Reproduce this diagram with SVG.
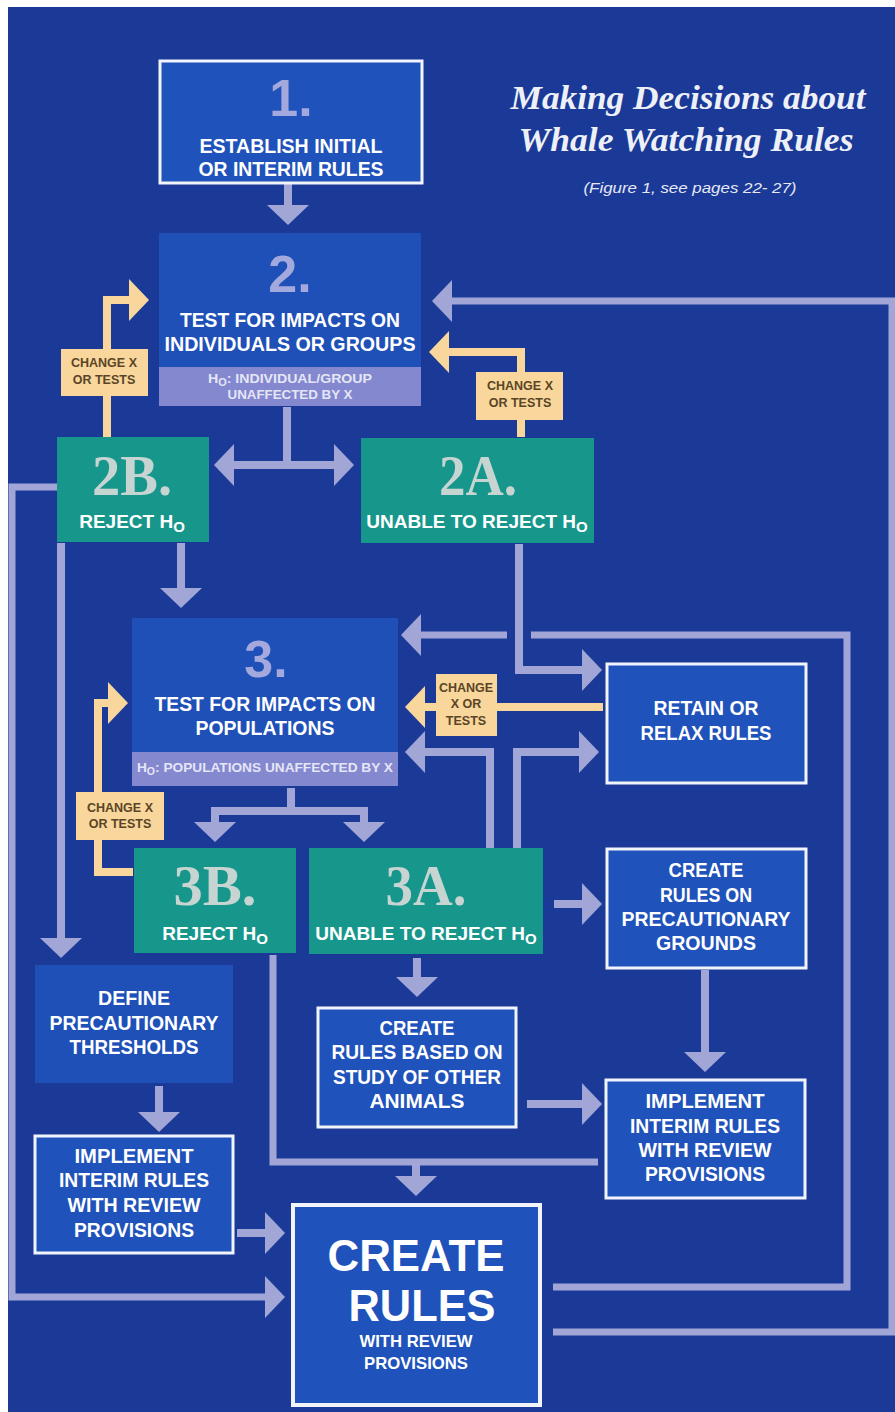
<svg xmlns="http://www.w3.org/2000/svg" width="895" height="1412" viewBox="0 0 895 1412">
<defs>
<style>
.bg{fill:#1b3a97}
.nb{fill:#1f52ba;stroke:#f2f4fb;stroke-width:3}
.nt{fill:#1f50b8}
.band{fill:#8488cf}
.teal{fill:#17978c}
.t{font-family:"Liberation Sans",Arial,sans-serif;font-weight:700;fill:#ffffff;text-anchor:middle;font-size:20px}
.r{font-size:19px}
.bt{font-family:"Liberation Sans",Arial,sans-serif;font-weight:700;font-size:13px;fill:#e4e6f7;text-anchor:middle}
.num{font-family:"Liberation Sans",Arial,sans-serif;font-weight:700;font-size:52px;fill:#a3a8dd;text-anchor:middle}
.snum{font-family:"Liberation Serif","Times New Roman",serif;font-weight:700;font-size:58px;fill:#c6d4d2;text-anchor:middle}
.lab{fill:#f8d69c}
.lt{font-family:"Liberation Sans",Arial,sans-serif;font-weight:700;font-size:12.5px;fill:#5a4526;text-anchor:middle}
.g{fill:none;stroke:#a1a6d7;stroke-width:8}
.gl{fill:none;stroke:#a1a6d7;stroke-width:7}
.y{fill:none;stroke:#f8d69c;stroke-width:8}
.ttl{font-family:"Liberation Serif","Times New Roman",serif;font-weight:700;font-style:italic;font-size:33px;fill:#eef0f8;text-anchor:middle}
.cap{font-family:"Liberation Sans",Arial,sans-serif;font-style:italic;font-size:15px;fill:#e6e8f4;text-anchor:middle}
</style>
<marker id="ag" viewBox="0 0 20 42" refX="4" refY="21" markerWidth="20" markerHeight="42" markerUnits="userSpaceOnUse" orient="auto-start-reverse"><path d="M0,0 L20,21 L0,42 Z" fill="#a1a6d7"/></marker>
<marker id="ay" viewBox="0 0 20 42" refX="4" refY="21" markerWidth="20" markerHeight="42" markerUnits="userSpaceOnUse" orient="auto-start-reverse"><path d="M0,0 L20,21 L0,42 Z" fill="#f8d69c"/></marker>
</defs>
<rect width="895" height="1412" fill="#ffffff"/>
<rect class="bg" x="8" y="7" width="887" height="1405"/>

<g id="title">
<text class="ttl" x="688" y="109" textLength="355" lengthAdjust="spacingAndGlyphs">Making Decisions about</text>
<text class="ttl" x="686" y="151" textLength="335" lengthAdjust="spacingAndGlyphs">Whale Watching Rules</text>
<text class="cap" x="690" y="193" textLength="213" lengthAdjust="spacingAndGlyphs">(Figure 1, see pages 22- 27)</text>
</g>

<g id="connectors">
<path class="g" d="M288,184 L288,209" marker-end="url(#ag)"/>
<path class="g" d="M287,407 L287,465"/>
<path class="g" d="M230,465 L338,465" marker-start="url(#ag)" marker-end="url(#ag)"/>
<path class="g" d="M181,543 L181,592" marker-end="url(#ag)"/>
<path class="g" d="M61,543 L61,942" marker-end="url(#ag)"/>
<path class="gl" d="M57,487 L12,487 L12,1297 L269,1297" marker-end="url(#ag)"/>
<path class="g" d="M519,544 L519,670 L586,670" marker-end="url(#ag)"/>
<path class="gl" d="M553,1287 L847,1287 L847,635 L531,635"/>
<path class="gl" d="M507,635 L417,635" marker-end="url(#ag)"/>
<path class="gl" d="M553,1332 L892,1332 L892,301 L448,301" marker-end="url(#ag)"/>
<path class="g" d="M490,848 L490,752 L421,752" marker-end="url(#ag)"/>
<path class="g" d="M517,848 L517,752 L583,752" marker-end="url(#ag)"/>
<path class="g" d="M291,788 L291,811"/>
<path class="g" d="M215,826 L215,811 L364,811 L364,826" marker-start="url(#ag)" marker-end="url(#ag)"/>
<path class="g" d="M554,904 L586,904" marker-end="url(#ag)"/>
<path class="g" d="M417,958 L417,981" marker-end="url(#ag)"/>
<path class="g" d="M527,1104 L586,1104" marker-end="url(#ag)"/>
<path class="g" d="M705,970 L705,1056" marker-end="url(#ag)"/>
<path class="gl" d="M273,955 L273,1162 L598,1162"/>
<path class="g" d="M416,1162 L416,1180" marker-end="url(#ag)"/>
<path class="g" d="M159,1086 L159,1116" marker-end="url(#ag)"/>
<path class="g" d="M237,1233 L269,1233" marker-end="url(#ag)"/>
<path class="y" d="M107,437 L107,300 L133,300" marker-end="url(#ay)"/>
<path class="y" d="M521,437 L521,352 L445,352" marker-end="url(#ay)"/>
<path class="y" d="M603,707 L421,707" marker-end="url(#ay)"/>
<path class="y" d="M133,872 L98,872 L98,703 L112,703" marker-end="url(#ay)"/>
</g>

<g id="label-2b">
<rect class="lab" x="61" y="349" width="87" height="47"/>
<text class="lt" x="104" y="367">CHANGE X</text>
<text class="lt" x="104" y="384">OR TESTS</text>
</g>
<g id="label-2a">
<rect class="lab" x="476" y="372" width="87" height="48"/>
<text class="lt" x="520" y="390">CHANGE X</text>
<text class="lt" x="520" y="407">OR TESTS</text>
</g>
<g id="label-retain">
<rect class="lab" x="436" y="674" width="61" height="62"/>
<text class="lt" x="466" y="692">CHANGE</text>
<text class="lt" x="466" y="708">X OR</text>
<text class="lt" x="466" y="725">TESTS</text>
</g>
<g id="label-3b">
<rect class="lab" x="76" y="792" width="88" height="48"/>
<text class="lt" x="120" y="812">CHANGE X</text>
<text class="lt" x="120" y="828">OR TESTS</text>
</g>

<g id="node-1">
<rect class="nb" x="160" y="61" width="262" height="122"/>
<text class="num" x="291" y="116">1.</text>
<text class="t" x="291" y="153" textLength="183" lengthAdjust="spacingAndGlyphs">ESTABLISH INITIAL</text>
<text class="t" x="291" y="176" textLength="185" lengthAdjust="spacingAndGlyphs">OR INTERIM RULES</text>
</g>

<g id="node-2">
<rect class="nt" x="159" y="233" width="262" height="173"/>
<rect class="band" x="159" y="367" width="262" height="39"/>
<text class="num" x="290" y="292">2.</text>
<text class="t" x="290" y="327" textLength="220" lengthAdjust="spacingAndGlyphs">TEST FOR IMPACTS ON</text>
<text class="t" x="290" y="351" textLength="251" lengthAdjust="spacingAndGlyphs">INDIVIDUALS OR GROUPS</text>
<text class="bt" x="290" y="383" textLength="164" lengthAdjust="spacingAndGlyphs">H<tspan font-size="10" dy="3">O</tspan><tspan dy="-3">: INDIVIDUAL/GROUP</tspan></text>
<text class="bt" x="290" y="399" textLength="125" lengthAdjust="spacingAndGlyphs">UNAFFECTED BY X</text>
</g>

<g id="node-2b">
<rect class="teal" x="57" y="437" width="152" height="105"/>
<text class="snum" x="132" y="495" textLength="80" lengthAdjust="spacingAndGlyphs">2B.</text>
<text class="t r" x="132" y="528">REJECT H<tspan font-size="15" dy="4">O</tspan></text>
</g>

<g id="node-2a">
<rect class="teal" x="361" y="438" width="233" height="105"/>
<text class="snum" x="478" y="495" textLength="78" lengthAdjust="spacingAndGlyphs">2A.</text>
<text class="t r" x="477" y="528">UNABLE TO REJECT H<tspan font-size="15" dy="4">O</tspan></text>
</g>

<g id="node-3">
<rect class="nt" x="132" y="618" width="266" height="168"/>
<rect class="band" x="132" y="752" width="266" height="34"/>
<text class="num" x="266" y="677">3.</text>
<text class="t" x="265" y="711" textLength="221" lengthAdjust="spacingAndGlyphs">TEST FOR IMPACTS ON</text>
<text class="t" x="265" y="735" textLength="139" lengthAdjust="spacingAndGlyphs">POPULATIONS</text>
<text class="bt" x="265" y="772" textLength="256" lengthAdjust="spacingAndGlyphs">H<tspan font-size="10" dy="3">O</tspan><tspan dy="-3">: POPULATIONS UNAFFECTED BY X</tspan></text>
</g>

<g id="node-3b">
<rect class="teal" x="134" y="848" width="162" height="105"/>
<text class="snum" x="215" y="905" textLength="83" lengthAdjust="spacingAndGlyphs">3B.</text>
<text class="t r" x="215" y="940">REJECT H<tspan font-size="15" dy="4">O</tspan></text>
</g>

<g id="node-3a">
<rect class="teal" x="309" y="848" width="234" height="106"/>
<text class="snum" x="426" y="905" textLength="81" lengthAdjust="spacingAndGlyphs">3A.</text>
<text class="t r" x="426" y="940">UNABLE TO REJECT H<tspan font-size="15" dy="4">O</tspan></text>
</g>

<g id="node-retain">
<rect class="nb" x="607" y="664" width="199" height="119"/>
<text class="t" x="706" y="715" textLength="105" lengthAdjust="spacingAndGlyphs">RETAIN OR</text>
<text class="t" x="706" y="740" textLength="131" lengthAdjust="spacingAndGlyphs">RELAX RULES</text>
</g>

<g id="node-precautionary">
<rect class="nb" x="607" y="849" width="199" height="119"/>
<text class="t" x="706" y="877" textLength="75" lengthAdjust="spacingAndGlyphs">CREATE</text>
<text class="t" x="706" y="902" textLength="92" lengthAdjust="spacingAndGlyphs">RULES ON</text>
<text class="t" x="706" y="926" textLength="169" lengthAdjust="spacingAndGlyphs">PRECAUTIONARY</text>
<text class="t" x="706" y="950" textLength="100" lengthAdjust="spacingAndGlyphs">GROUNDS</text>
</g>

<g id="node-define">
<rect x="35" y="965" width="198" height="118" fill="#1e50b8"/>
<text class="t" x="134" y="1005" textLength="72" lengthAdjust="spacingAndGlyphs">DEFINE</text>
<text class="t" x="134" y="1030" textLength="169" lengthAdjust="spacingAndGlyphs">PRECAUTIONARY</text>
<text class="t" x="134" y="1054" textLength="129" lengthAdjust="spacingAndGlyphs">THRESHOLDS</text>
</g>

<g id="node-study">
<rect class="nb" x="318" y="1008" width="198" height="119"/>
<text class="t" x="417" y="1035" textLength="75" lengthAdjust="spacingAndGlyphs">CREATE</text>
<text class="t" x="417" y="1059" textLength="171" lengthAdjust="spacingAndGlyphs">RULES BASED ON</text>
<text class="t" x="417" y="1084" textLength="168" lengthAdjust="spacingAndGlyphs">STUDY OF OTHER</text>
<text class="t" x="417" y="1108" textLength="95" lengthAdjust="spacingAndGlyphs">ANIMALS</text>
</g>

<g id="node-implement-right">
<rect class="nb" x="606" y="1080" width="199" height="118"/>
<text class="t" x="705" y="1108" textLength="119" lengthAdjust="spacingAndGlyphs">IMPLEMENT</text>
<text class="t" x="705" y="1133" textLength="150" lengthAdjust="spacingAndGlyphs">INTERIM RULES</text>
<text class="t" x="705" y="1157" textLength="133" lengthAdjust="spacingAndGlyphs">WITH REVIEW</text>
<text class="t" x="705" y="1181" textLength="120" lengthAdjust="spacingAndGlyphs">PROVISIONS</text>
</g>

<g id="node-implement-left">
<rect class="nb" x="35" y="1136" width="198" height="117"/>
<text class="t" x="134" y="1163" textLength="119" lengthAdjust="spacingAndGlyphs">IMPLEMENT</text>
<text class="t" x="134" y="1187" textLength="150" lengthAdjust="spacingAndGlyphs">INTERIM RULES</text>
<text class="t" x="134" y="1212" textLength="133" lengthAdjust="spacingAndGlyphs">WITH REVIEW</text>
<text class="t" x="134" y="1237" textLength="120" lengthAdjust="spacingAndGlyphs">PROVISIONS</text>
</g>

<g id="node-create-rules">
<rect class="nb" x="293" y="1205" width="247" height="200" style="stroke-width:4"/>
<text class="t" x="416" y="1271" style="font-size:44px" textLength="177" lengthAdjust="spacingAndGlyphs">CREATE</text>
<text class="t" x="422" y="1321" style="font-size:44px" textLength="147" lengthAdjust="spacingAndGlyphs">RULES</text>
<text class="t" x="416" y="1347" style="font-size:17px" textLength="113" lengthAdjust="spacingAndGlyphs">WITH REVIEW</text>
<text class="t" x="416" y="1369" style="font-size:17px" textLength="104" lengthAdjust="spacingAndGlyphs">PROVISIONS</text>
</g>
</svg>
